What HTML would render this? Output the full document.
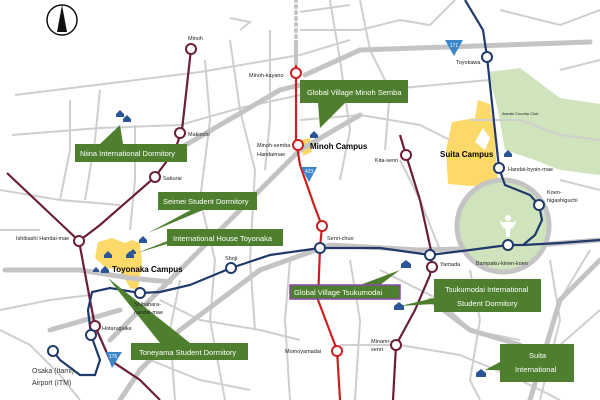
<!DOCTYPE html>
<html><head><meta charset="utf-8"><style>
html,body{margin:0;padding:0;background:#fff;}
svg{display:block;}
text{font-family:"Liberation Sans",sans-serif;}
</style></head><body>
<svg width="600" height="400" viewBox="0 0 600 400" xmlns="http://www.w3.org/2000/svg">
<!-- areas -->
<path d="M488,72 L520,68 L560,98 L600,104 L600,175 L560,170 L535,160 L505,150 L498,110 Z" fill="#cfe3bd"/>
<path d="M452,122 L475,118 L478,100 L490,104 L494,130 L498,185 L470,186 L448,184 L446,150 Z" fill="#fdd96a"/>
<path d="M483,128 L490,138 L485,150 L475,142 Z" fill="#fff"/>
<path d="M98,242 L112,238 L125,243 L132,240 L140,243 L142,262 L138,290 L130,288 L120,270 L106,268 L95,258 Z" fill="#fdd96a"/>
<path d="M300,140 L310,138 L312,152 L303,156 Z" fill="#fdd96a"/>
<!-- thin roads -->
<g fill="none" stroke="#cfcfcf" stroke-width="2">
<path d="M15,95 L120,82 L200,72 L300,55 L350,40"/>
<path d="M12,135 L100,128 L180,125 L240,108 L300,95"/>
<path d="M70,100 L70,150 L60,200"/>
<path d="M100,90 L95,140 L85,200"/>
<path d="M135,125 L135,180 L130,230"/>
<path d="M205,60 L210,120 L200,200 L215,260 L210,320 L225,400"/>
<path d="M230,40 L240,110 L255,170 L250,260 L255,330"/>
<path d="M270,30 L270,120 L265,170"/>
<path d="M330,0 L340,60 L350,130 L340,180"/>
<path d="M360,0 L370,50 L390,90 L385,150"/>
<path d="M300,30 L360,30 L400,20 L430,25 L455,0"/>
<path d="M300,12 L350,5"/>
<path d="M230,18 L250,22 L240,30"/>
<path d="M380,90 L490,80"/>
<path d="M300,120 L360,115 L420,125 L450,140"/>
<path d="M470,120 L520,120 L560,135 L600,140"/>
<path d="M500,10 L560,25 L600,10"/>
<path d="M600,60 L560,70"/>
<path d="M0,190 L60,200 L120,205"/>
<path d="M0,230 L40,230"/>
<path d="M0,310 L50,300 L90,295"/>
<path d="M0,330 L30,345 L60,375 L80,400"/>
<path d="M160,300 L200,320 L260,330 L300,340"/>
<path d="M180,280 L170,330 L175,400"/>
<path d="M290,260 L285,320 L290,400"/>
<path d="M350,260 L360,320 L355,400"/>
<path d="M380,270 L440,300 L470,330 L520,340"/>
<path d="M340,345 L400,345 L460,355 L520,380 L560,400"/>
<path d="M470,270 L480,320 L470,380 L480,400"/>
<path d="M550,260 L560,320 L540,400"/>
<path d="M520,380 L600,310"/>
<path d="M560,180 L600,190"/>
<path d="M590,250 L560,300 L530,400"/>
<path d="M400,160 L420,200 L440,250"/>
<path d="M150,360 L200,380 L250,390"/>
</g>
<!-- thick roads -->
<g fill="none" stroke="#c4c4c4" stroke-width="5" stroke-linecap="round">
<path d="M360,50 L590,42"/>
<path d="M305,75 L360,50"/>
<path d="M5,270 L80,270 L130,278 L170,282"/>
<path d="M110,340 L200,250 L260,190 L300,150 L360,115"/>
<path d="M120,400 L140,370 L180,330 L260,270 L330,245 L420,250 L500,248 L600,240"/>
<path d="M160,160 L280,90 L300,85"/>
<path d="M50,330 L120,310"/>
<path d="M430,300 L470,330 L520,345"/>
<path d="M600,260 L560,300 L530,400"/>
</g>
<line x1="296" y1="0" x2="296" y2="40" stroke="#c4c4c4" stroke-width="4" stroke-dasharray="1 5" stroke-linecap="round"/>
<line x1="296" y1="40" x2="296" y2="65" stroke="#c4c4c4" stroke-width="4"/>
<!-- Banpaku park -->
<circle cx="503" cy="226" r="46" fill="#cfe3bd" stroke="#c4c4c4" stroke-width="5"/>
<g fill="#fff"><circle cx="508" cy="218" r="3"/><path d="M500,222 L516,222 L510,230 L510,237 L506,237 L506,230 Z"/><path d="M499,220 L505,226 L503,228 Z"/><path d="M517,220 L511,226 L513,228 Z"/></g>
<!-- rail lines -->
<g fill="none" stroke-width="2.2">
<path d="M191,49 L182,130 L175,150 L155,177 L100,225 L79,241" stroke="#6b1e3c"/>
<path d="M7,173 L79,241 L90,300 L95,326 L110,360 L140,380 L160,400" stroke="#6b1e3c"/>
<path d="M400,135 L406,155 L420,200 L432,255 L430,275 L415,310 L396,345 L393,400" stroke="#6b1e3c"/>
<path d="M296,65 L296,140 L300,165 L314,205 L322,226 L320,248 L318,300 L337,350 L340,400" stroke="#cc1f1f"/>
<path d="M465,0 L483,30 L487,57 L499,168 L505,185 L530,195 L539,205 L542,220 L535,235 L523,245 L508,245 L470,250 L430,255 L380,248 L320,248 L270,255 L231,268 L190,285 L160,292 L140,293 L110,288 L92,292 L88,310 L91,335 L100,360 L95,375 L80,375 L60,360 L53,351" stroke="#1f3a6b"/>
<path d="M523,245 L560,243 L600,240" stroke="#1f3a6b"/>
</g>
<!-- stations -->
<g fill="#fff" stroke-width="2">
<g stroke="#6b1e3c"><circle cx="191" cy="49" r="5"/><circle cx="180" cy="133" r="5"/><circle cx="155" cy="177" r="5"/><circle cx="79" cy="241" r="5"/><circle cx="95" cy="326" r="5"/><circle cx="406" cy="155" r="5"/><circle cx="432" cy="267" r="5"/><circle cx="396" cy="345" r="5"/></g>
<g stroke="#cc1f1f"><circle cx="296" cy="73" r="5"/><circle cx="298" cy="145" r="5"/><circle cx="322" cy="226" r="5"/><circle cx="337" cy="351" r="5"/></g>
<g stroke="#1f3a6b"><circle cx="487" cy="57" r="5"/><circle cx="499" cy="168" r="5"/><circle cx="539" cy="205" r="5"/><circle cx="508" cy="245" r="5"/><circle cx="430" cy="255" r="5"/><circle cx="320" cy="248" r="5"/><circle cx="231" cy="268" r="5"/><circle cx="140" cy="293" r="5"/><circle cx="91" cy="335" r="5"/><circle cx="53" cy="351" r="5"/></g>
</g>
<!-- route markers -->
<g fill="#3a86c8"><path d="M445,40 L463,40 L454,56 Z"/><path d="M301,167 L317,167 L309,182 Z"/><path d="M106,352 L122,352 L112,368 Z"/></g>
<g fill="#fff" font-size="5" text-anchor="middle"><text x="454" y="47">171</text><text x="309" y="173">423</text><text x="113" y="358">176</text></g>
<!-- compass -->
<circle cx="62" cy="20" r="15" fill="#fff" stroke="#111" stroke-width="1.5"/>
<path d="M62,5 L67,32 L57,32 Z" fill="#111"/>
<!-- green callouts -->
<g fill="#4e7f2e">
<path d="M100,144 L120,125 L123,144 Z"/><rect x="75" y="144" width="112" height="18"/>
<path d="M200,205 L148,233 L215,205 Z"/><rect x="158" y="192" width="99" height="18"/>
<path d="M180,240 L137,253 L185,234 Z"/><rect x="167" y="229" width="116" height="17"/>
<path d="M318,103 L320,128 L345,103 Z"/><rect x="300" y="80" width="108" height="23"/>
<path d="M380,285 L400,270 L360,285 Z"/><rect x="290" y="285" width="110" height="14" stroke="#8a4aa8" stroke-width="1.5"/>
<path d="M434,298 L400,306 L434,304 Z"/><rect x="434" y="279" width="107" height="33"/>
<path d="M160,343 L108,278 L190,343 Z"/><rect x="131" y="343" width="117" height="17"/>
<path d="M500,362 L485,370 L500,370 Z"/><rect x="500" y="344" width="74" height="38"/>
</g>
<g fill="#fff" font-size="7.5">
<text x="80" y="156">Niina International Dormitory</text>
<text x="163" y="204">Seimei Student Dormitory</text>
<text x="173" y="241">International House Toyonaka</text>
<text x="307" y="95">Global Village Minoh Semba</text>
<text x="294" y="295">Global Village Tsukumodai</text>
<text x="445" y="292">Tsukumodai International</text>
<text x="457" y="306">Student Dormitory</text>
<text x="139" y="355">Toneyama Student Dormitory</text>
<text x="529" y="358">Suita</text>
<text x="515" y="372">International</text>
</g>
<!-- dorm icons -->
<g fill="#2c5596">
<path d="M116,114 l4,-4 l4,4 v3 h-8 Z"/><path d="M123,119 l4,-4 l4,4 v3 h-8 Z"/>
<path d="M310,135 l4,-4 l4,4 v3 h-8 Z"/>
<path d="M504,154 l4,-4 l4,4 v3 h-8 Z"/>
<path d="M139,240 l4,-4 l4,4 v3 h-8 Z"/>
<path d="M104,255 l4,-4 l4,4 v3 h-8 Z"/><path d="M126,255 l4,-4 l4,4 v3 h-8 Z"/><path d="M130,252 l3,-3 l3,3 v2 h-6 Z"/>
<path d="M93,270 l3,-3 l3,3 v2 h-6 Z"/><path d="M101,270 l4,-4 l4,4 v3 h-8 Z"/>
<path d="M401,264 l5,-4 l5,4 v4 h-10 Z"/>
<path d="M394,306 l5,-4 l5,4 v4 h-10 Z"/>
<path d="M476,373 l5,-4 l5,4 v4 h-10 Z"/>
</g>
<!-- station labels -->
<g fill="#222" font-size="5.5">
<text x="188" y="40">Minoh</text>
<text x="188" y="136">Makiochi</text>
<text x="163" y="180">Sakurai</text>
<text x="16" y="240">Ishibashi Handai-mae</text>
<text x="102" y="330">Hotarugaike</text>
<text x="249" y="77">Minoh-kayano</text>
<text x="257" y="147">Minoh-semba</text>
<text x="257" y="156">Handaimae</text>
<text x="375" y="162">Kita-senri</text>
<text x="327" y="240">Senri-chuo</text>
<text x="225" y="260">Shoji</text>
<text x="134" y="306">Shibahara-</text>
<text x="134" y="314">handai-mae</text>
<text x="285" y="353">Momoyamadai</text>
<text x="440" y="266">Yamada</text>
<text x="371" y="343">Minami-</text>
<text x="371" y="351">senri</text>
<text x="476" y="265">Bampaku-kinen-koen</text>
<text x="547" y="194">Koen-</text>
<text x="547" y="202">higashiguchi</text>
<text x="508" y="171">Handai-byoin-mae</text>
<text x="456" y="64">Toyokawa</text>
<text x="502" y="115" font-size="4">Ibaraki Country Club</text>
</g>
<g fill="#333" font-size="7"><text x="32" y="373">Osaka (Itami)</text><text x="32" y="385">Airport (ITM)</text></g>
<g fill="#000" font-size="8" font-weight="bold">
<text x="310" y="149">Minoh Campus</text>
<text x="440" y="157">Suita Campus</text>
<text x="112" y="272">Toyonaka Campus</text>
</g>
</svg>
</body></html>
